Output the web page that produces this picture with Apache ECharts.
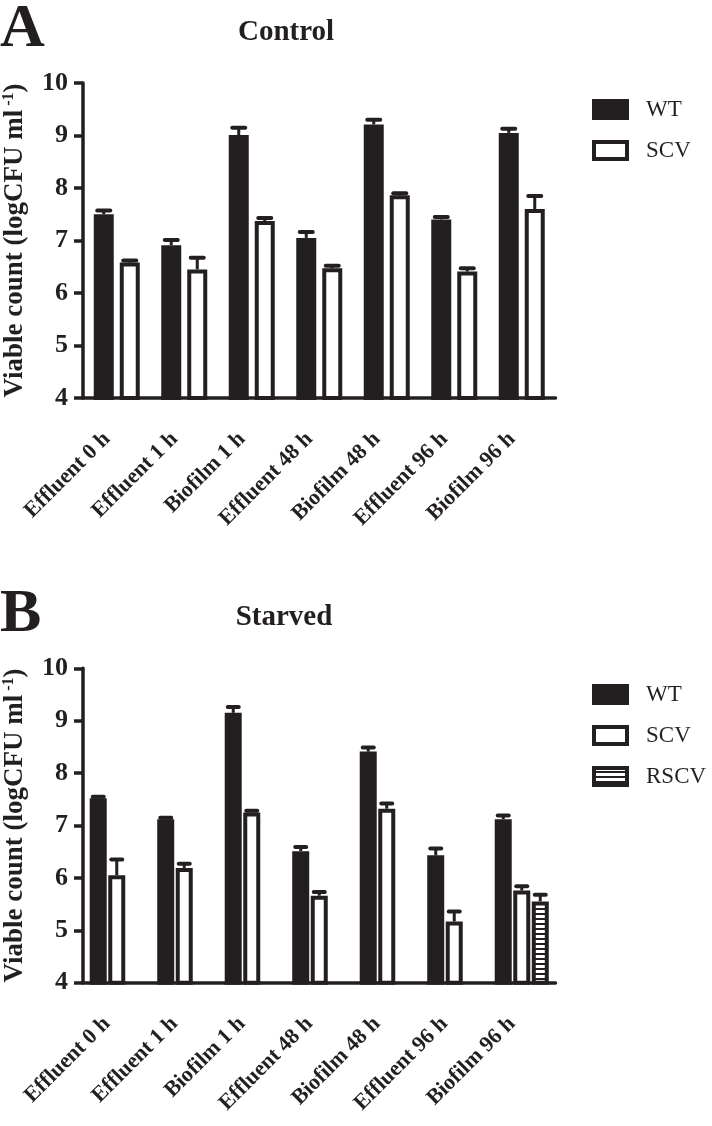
<!DOCTYPE html>
<html>
<head>
<meta charset="utf-8">
<script src="https://cdn.jsdelivr.net/npm/echarts@6/dist/echarts.min.js"></script>
<style>
html,body{margin:0;padding:0;background:#fff;}
#chart{width:712px;height:1126px;}
</style>
</head>
<body>
<div id="chart"></div>
<script>
// ---- data ----
const categories = ['Effluent 0 h','Effluent 1 h','Biofilm 1 h','Effluent 48 h','Biofilm 48 h','Effluent 96 h','Biofilm 96 h'];
const yTicks = [4,5,6,7,8,9,10];

const controlWT     = [7.50, 6.91, 9.01, 7.05, 9.21, 7.40, 9.05];
const controlWTErr  = [0.07, 0.10, 0.14, 0.11, 0.09, 0.05, 0.08];
const controlSCV    = [6.58, 6.45, 7.37, 6.47, 7.86, 6.41, 7.60];
const controlSCVErr = [0.04, 0.22, 0.06, 0.05, 0.04, 0.06, 0.25];

const starvedWT      = [7.52, 7.12, 9.15, 6.51, 8.41, 6.43, 7.12];
const starvedWTErr   = [0.03, 0.03, 0.11, 0.08, 0.08, 0.13, 0.07];
const starvedSCV     = [6.05, 6.19, 7.25, 5.66, 7.32, 5.17, 5.76];
const starvedSCVErr  = [0.30, 0.08, 0.03, 0.07, 0.10, 0.19, 0.08];
const starvedRSCV    = [null, null, null, null, null, null, 5.55];
const starvedRSCVErr = [null, null, null, null, null, null, 0.13];

// ---- styles ----
const INK = '#231f20';
const FONT = "'Liberation Serif','Times New Roman',serif";

function stripes() {
  const c = document.createElement('canvas');
  c.width = 4; c.height = 5;
  const g = c.getContext('2d');
  g.fillStyle = '#fff'; g.fillRect(0,0,4,5);
  g.fillStyle = INK; g.fillRect(0,3,4,2);
  return {image: c, repeat: 'repeat'};
}
const stripePattern = stripes();

const grids = [
  {left: 83, top: 83, width: 472.5, height: 315, containLabel: false, outerBoundsMode: 'none'},
  {left: 83, top: 668.3, width: 472.5, height: 314.4, containLabel: false, outerBoundsMode: 'none'}
];

function xAxisCfg(gi) {
  return {
    type: 'category', gridIndex: gi, data: categories,
    axisLine: {lineStyle: {color: INK, width: 3.5}},
    axisTick: {alignWithLabel: true, length: 9, lineStyle: {color: INK, width: 3.5}},
    axisLabel: {rotate: 45, margin: 28, padding: [0, 14, 0, 0], color: INK, fontFamily: FONT, fontWeight: 'bold', fontSize: 22, interval: 0}
  };
}
function yAxisCfg(gi) {
  return {
    type: 'value', gridIndex: gi, min: 4, max: 10, interval: 1,
    name: 'Viable count (logCFU ml{sup| -1})',
    nameLocation: 'middle', nameRotate: 90, nameGap: 54,
    nameTextStyle: {color: INK, fontFamily: FONT, fontWeight: 'bold', fontSize: 27,
      rich: {sup: {fontFamily: FONT, fontWeight: 'bold', fontSize: 16, verticalAlign: 'top', color: INK, padding: [0,0,12,0]}}},
    axisLine: {show: true, lineStyle: {color: INK, width: 3.5}},
    axisTick: {show: true, length: 9, lineStyle: {color: INK, width: 3.5}},
    axisLabel: {margin: 15, color: INK, fontFamily: FONT, fontWeight: 'bold', fontSize: 26,
      formatter: v => yTicks.includes(v) ? String(v) : ''},
    splitLine: {show: false}
  };
}

function barSeries(name, vals, gi, fill, bw, gapPct) {
  return {
    type: 'bar', name, xAxisIndex: gi, yAxisIndex: gi, data: vals,
    barWidth: bw, barGap: gapPct,
    itemStyle: {color: fill, borderColor: INK, borderWidth: 4},
    z: 2
  };
}
function errSeries(vals, errs, gi, offset, capW) {
  const data = [];
  vals.forEach((v, i) => { if (v != null) data.push([i, v, errs[i]]); });
  return {
    type: 'custom', xAxisIndex: gi, yAxisIndex: gi, data, silent: true, z: 5,
    encode: {x: 0, y: 1},
    renderItem: (params, api) => {
      const i = api.value(0), v = api.value(1), e = api.value(2);
      const p0 = api.coord([i, v]);
      const p1 = api.coord([i, v + e]);
      const x = p0[0] + offset;
      return {type: 'group', children: [
        {type: 'line', shape: {x1: x, y1: p0[1], x2: x, y2: p1[1]}, style: {stroke: INK, lineWidth: 3}},
        {type: 'line', shape: {x1: x - capW/2, y1: p1[1], x2: x + capW/2, y2: p1[1]}, style: {stroke: INK, lineWidth: 4, lineCap: 'round'}}
      ]};
    }
  };
}

const legendText = {color: INK, fontFamily: FONT, fontSize: 23, padding: [0,0,0,14]};
const legWT = {name: 'WT', itemStyle: {color: INK, borderColor: INK, borderWidth: 4}};
const legSCV = {name: 'SCV', itemStyle: {color: '#fff', borderColor: INK, borderWidth: 4}};
const legRSCV = {name: 'RSCV', itemStyle: {color: stripePattern, borderColor: INK, borderWidth: 4}};

const option = {
  animation: false,
  backgroundColor: '#fff',
  grid: grids,
  xAxis: [xAxisCfg(0), xAxisCfg(1)],
  yAxis: [yAxisCfg(0), yAxisCfg(1)],
  legend: [
    {orient: 'vertical', left: 587, top: 93, itemWidth: 33, itemHeight: 17, itemGap: 18, icon: 'rect',
     data: [legWT, legSCV], textStyle: legendText, selectedMode: false},
    {orient: 'vertical', left: 587, top: 678, itemWidth: 33, itemHeight: 17, itemGap: 18, icon: 'rect',
     data: [legWT, legSCV, legRSCV], textStyle: legendText, selectedMode: false}
  ],
  graphic: [
    {type: 'text', left: 0, top: -1, style: {text: 'A', font: "bold 62px " + FONT, fill: INK}},
    {type: 'text', left: 0, top: 584, style: {text: 'B', font: "bold 62px " + FONT, fill: INK}},
    {type: 'text', x: 286, y: 33, style: {text: 'Control', font: "bold 29px " + FONT, fill: INK, textAlign: 'center', textVerticalAlign: 'middle'}},
    {type: 'text', x: 284, y: 618, style: {text: 'Starved', font: "bold 29px " + FONT, fill: INK, textAlign: 'center', textVerticalAlign: 'middle'}}
  ],
  series: [
    barSeries('WT', controlWT, 0, INK, 20, '30%'),
    barSeries('SCV', controlSCV, 0, '#fff', 20, '30%'),
    errSeries(controlWT, controlWTErr, 0, -13, 13),
    errSeries(controlSCV, controlSCVErr, 0, 13, 13),

    barSeries('WT', starvedWT, 1, INK, 17, '9%'),
    barSeries('SCV', starvedSCV, 1, '#fff', 17, '9%'),
    barSeries('RSCV', starvedRSCV, 1, stripePattern, 17, '9%'),
    errSeries(starvedWT, starvedWTErr, 1, -18.5, 11),
    errSeries(starvedSCV, starvedSCVErr, 1, 0, 11),
    errSeries(starvedRSCV, starvedRSCVErr, 1, 18.5, 11)
  ]
};

const chart = echarts.init(document.getElementById('chart'), null, {renderer: 'canvas'});
chart.setOption(option);
</script>
</body>
</html>
